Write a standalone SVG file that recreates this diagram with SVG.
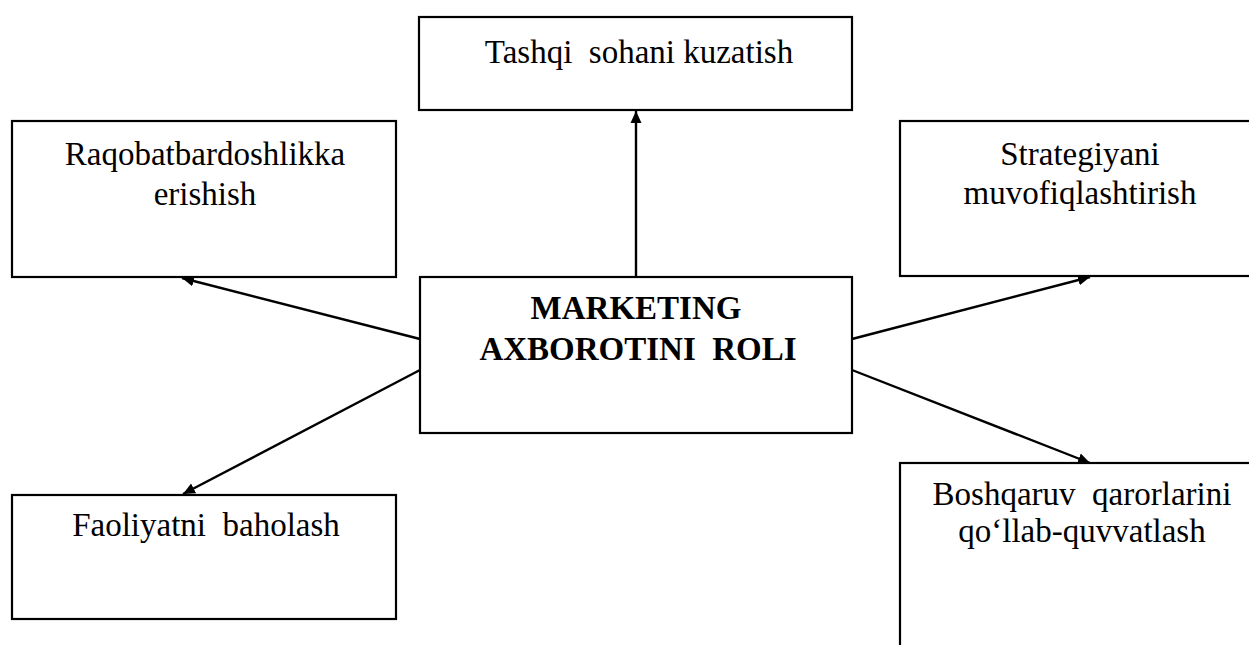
<svg xmlns="http://www.w3.org/2000/svg" width="1249" height="645" viewBox="0 0 1249 645">
  <style>
    .box { fill: #ffffff; stroke: #000000; stroke-width: 2.2; }
    .lbl { font-family: "Liberation Serif", "Times New Roman", serif; font-size: 33px; fill: #000000; text-anchor: middle; white-space: pre; }
    .title { font-weight: bold; font-size: 33px; }
    .link { stroke: #000000; stroke-width: 2.4; fill: none; marker-end: url(#head); }
  </style>
  <defs>
    <marker id="head" markerUnits="userSpaceOnUse" markerWidth="14" markerHeight="12" refX="12" refY="6" orient="auto">
      <path d="M0,0.5 L12,6 L0,11.5 Z" fill="#000000"/>
    </marker>
  </defs>
  <rect width="1249" height="645" fill="#ffffff"/>

  <g id="connectors">
    <line class="link" x1="636" y1="277" x2="636" y2="111"/>
    <line class="link" x1="420" y1="339" x2="182" y2="278"/>
    <line class="link" x1="420" y1="370" x2="183" y2="494"/>
    <line class="link" x1="852" y1="339" x2="1090" y2="277"/>
    <line class="link" x1="852" y1="370" x2="1090" y2="463"/>
  </g>

  <g id="node-tashqi">
    <rect class="box" x="419" y="17" width="433" height="93"/>
    <text class="lbl" x="639" y="63">Tashqi  sohani kuzatish</text>
  </g>

  <g id="node-raqobat">
    <rect class="box" x="12" y="121" width="384" height="156"/>
    <text class="lbl" x="205" y="165">Raqobatbardoshlikka</text>
    <text class="lbl" x="205" y="205">erishish</text>
  </g>

  <g id="node-strategiya">
    <rect class="box" x="900" y="121" width="360" height="155"/>
    <text class="lbl" x="1080" y="165">Strategiyani</text>
    <text class="lbl" x="1080" y="204">muvofiqlashtirish</text>
  </g>

  <g id="node-marketing">
    <rect class="box" x="420" y="277" width="432" height="156"/>
    <text class="lbl title" x="636" y="319">MARKETING</text>
    <text class="lbl title" x="638" y="360">AXBOROTINI  ROLI</text>
  </g>

  <g id="node-faoliyat">
    <rect class="box" x="12" y="495" width="384" height="124"/>
    <text class="lbl" x="206" y="536">Faoliyatni  baholash</text>
  </g>

  <g id="node-boshqaruv">
    <rect class="box" x="900" y="463" width="360" height="200"/>
    <text class="lbl" x="1082" y="505">Boshqaruv  qarorlarini</text>
    <text class="lbl" x="1082" y="542">qo‘llab-quvvatlash</text>
  </g>
</svg>
